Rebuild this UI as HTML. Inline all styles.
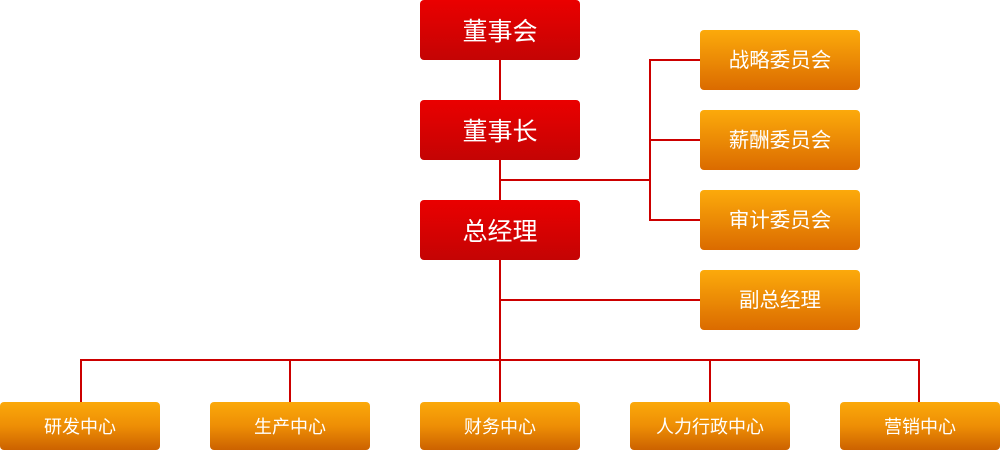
<!DOCTYPE html>
<html>
<head>
<meta charset="utf-8">
<style>
  html, body { margin:0; padding:0; background:#fff; }
  body { width:1000px; height:450px; position:relative; overflow:hidden;
    font-family: "Liberation Sans", "Noto Sans CJK SC", "WenQuanYi Zen Hei", sans-serif; }
  .b { position:absolute; color:#fff; text-align:center; border-radius:4px; white-space:nowrap; box-sizing:border-box; }
  .red { width:160px; height:60px; line-height:60px; padding-top:2px; font-size:25px;
    background:linear-gradient(to bottom, #ea0000 0%, #c40404 100%); }
  .or { width:160px; height:60px; line-height:60px; padding-top:1px; font-size:20.5px;
    background:linear-gradient(to bottom, #fcaa0b 0%, #db6b00 100%); }
  .bt { width:160px; height:48px; line-height:48px; padding-top:1px; font-size:18px; border-radius:4px;
    background:linear-gradient(to bottom, #fba90a 0%, #ee8e05 50%, #cc6200 100%); }
  .l { position:absolute; background:#cc0000; }
</style>
</head>
<body>
  <!-- lines -->
  <div class="l" style="left:499px; top:60px; width:2px; height:40px;"></div>
  <div class="l" style="left:499px; top:160px; width:2px; height:40px;"></div>
  <div class="l" style="left:499px; top:260px; width:2px; height:142px;"></div>
  <div class="l" style="left:499px; top:179px; width:152px; height:2px;"></div>
  <div class="l" style="left:649px; top:59px; width:2px; height:162px;"></div>
  <div class="l" style="left:649px; top:59px; width:51px; height:2px;"></div>
  <div class="l" style="left:649px; top:139px; width:51px; height:2px;"></div>
  <div class="l" style="left:649px; top:219px; width:51px; height:2px;"></div>
  <div class="l" style="left:499px; top:299px; width:201px; height:2px;"></div>
  <div class="l" style="left:80px; top:359px; width:840px; height:2px;"></div>
  <div class="l" style="left:80px; top:359px; width:2px; height:43px;"></div>
  <div class="l" style="left:289px; top:359px; width:2px; height:43px;"></div>
  <div class="l" style="left:709px; top:359px; width:2px; height:43px;"></div>
  <div class="l" style="left:918px; top:359px; width:2px; height:43px;"></div>

  <!-- red boxes -->
  <div class="b red" style="left:420px; top:0px;">董事会</div>
  <div class="b red" style="left:420px; top:100px;">董事长</div>
  <div class="b red" style="left:420px; top:200px;">总经理</div>

  <!-- right orange boxes -->
  <div class="b or" style="left:700px; top:30px;">战略委员会</div>
  <div class="b or" style="left:700px; top:110px;">薪酬委员会</div>
  <div class="b or" style="left:700px; top:190px;">审计委员会</div>
  <div class="b or" style="left:700px; top:270px;">副总经理</div>

  <!-- bottom boxes -->
  <div class="b bt" style="left:0px; top:402px;">研发中心</div>
  <div class="b bt" style="left:210px; top:402px;">生产中心</div>
  <div class="b bt" style="left:420px; top:402px;">财务中心</div>
  <div class="b bt" style="left:630px; top:402px;">人力行政中心</div>
  <div class="b bt" style="left:840px; top:402px;">营销中心</div>
</body>
</html>
